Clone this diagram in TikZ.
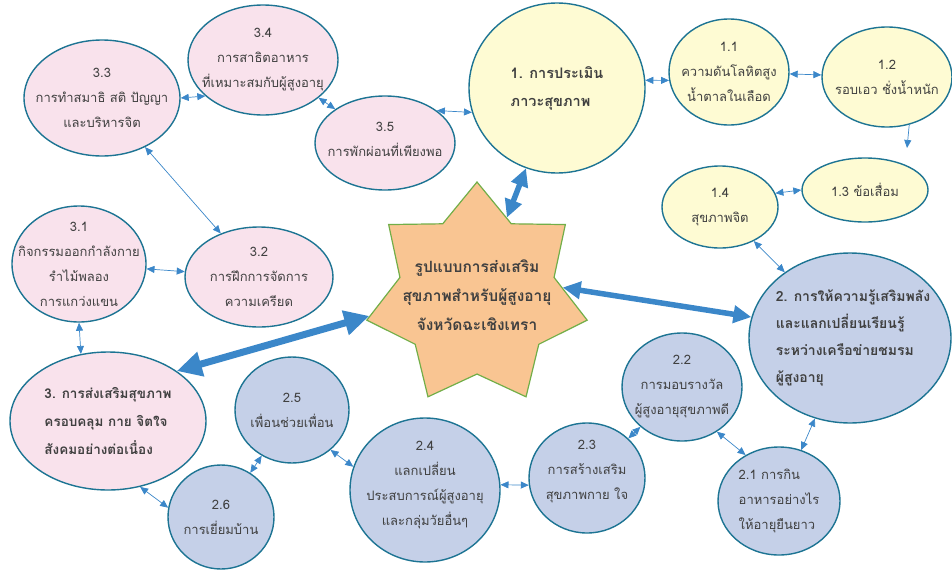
\documentclass[tikz,border=0pt]{standalone}
\usepackage{fontspec}
\setmainfont[Script=Thai]{Loma}
\usetikzlibrary{shapes.geometric,arrows.meta}

\definecolor{rimblue}{HTML}{1D7493}
\definecolor{pinkfill}{HTML}{F9E2EC}
\definecolor{yellowfill}{HTML}{FEFBD3}
\definecolor{bluefill}{HTML}{C5D0E8}
\definecolor{arrowblue}{HTML}{3B87C9}
\definecolor{starfill}{HTML}{F9C592}
\definecolor{stargreen}{HTML}{72AE48}
\definecolor{textgray}{HTML}{404040}

\tikzset{%
  % Specifications for style of nodes:
       bubble/.style = {ellipse, draw=rimblue, line width=1.4pt, inner sep=0pt},
   pinkbubble/.style = {bubble, fill=pinkfill},
 yellowbubble/.style = {bubble, fill=yellowfill},
   bluebubble/.style = {bubble, fill=bluefill},
    starshape/.style = {star, star points=7, star point ratio=1.43, minimum size=226pt, inner sep=0pt, draw=stargreen, fill=starfill, line width=1.2pt},
          txt/.style = {align=center, text=textgray, font=\fontsize{13}{25}\selectfont},
      boldtxt/.style = {align=left, text=textgray, font=\fontsize{14.5}{28}\selectfont\bfseries},
  % Specifications for style of arrows:
         link/.style = {<->, >={Triangle[length=8pt,width=7pt]}, draw=arrowblue, line width=0.7pt},
     bigarrow/.style = {<->, >={Triangle[length=18pt,width=17pt]}, draw=arrowblue, line width=5.5pt},
}

\begin{document}
\begin{tikzpicture}[x=1pt, y=-1pt]
    \useasboundingbox (0,0) rectangle (952,570);

    % Draw nodes
    \node (model) [starshape, label={[boldtxt, align=center, font=\fontsize{15.5}{29}\selectfont\bfseries]center:{รูปแบบการส่งเสริม\\สุขภาพสำหรับผู้สูงอายุ\\จังหวัดฉะเชิงเทรา}}] at (477,295) {};

    \node (n1)  [yellowbubble, minimum width=176pt, minimum height=170pt, label={[boldtxt]center:{1. การประเมิน\\ภาวะสุขภาพ}}] at (557,88) {};
    \node (n11) [yellowbubble, minimum width=120pt, minimum height=106pt, label={[txt]center:{1.1\\ความดันโลหิตสูง\\น้ำตาลในเลือด}}] at (729,72) {};
    \node (n12) [yellowbubble, minimum width=130pt, minimum height=100pt, label={[txt]center:{1.2\\รอบเอว ชั่งน้ำหนัก}}] at (887,77) {};
    \node (n13) [yellowbubble, minimum width=126pt, minimum height=64pt, label={[txt]center:{1.3 ข้อเสื่อม}}] at (865,190) {};
    \node (n14) [yellowbubble, minimum width=116pt, minimum height=82pt, label={[txt]center:{1.4\\สุขภาพจิต}}] at (720,207) {};

    \node (n2)  [bluebubble, minimum width=202pt, minimum height=170pt, label={[boldtxt, xshift=3pt, font=\fontsize{14}{27}\selectfont\bfseries]center:{2. การให้ความรู้เสริมพลัง\\และแลกเปลี่ยนเรียนรู้\\ระหว่างเครือข่ายชมรม\\ผู้สูงอายุ}}] at (850,338) {};
    \node (n21) [bluebubble, minimum width=122pt, minimum height=108pt, label={[txt, align=left]center:{2.1 การกิน\\อาหารอย่างไร\\ให้อายุยืนยาว}}] at (779,501) {};
    \node (n22) [bluebubble, minimum width=120pt, minimum height=108pt, label={[txt]center:{2.2\\การมอบรางวัล\\ผู้สูงอายุสุขภาพดี}}] at (682,387) {};
    \node (n23) [bluebubble, minimum width=116pt, minimum height=110pt, label={[txt, yshift=6pt]center:{2.3\\การสร้างเสริม\\สุขภาพกาย ใจ}}] at (587,478) {};
    \node (n24) [bluebubble, minimum width=150pt, minimum height=144pt, label={[txt, yshift=5pt]center:{2.4\\แลกเปลี่ยน\\ประสบการณ์ผู้สูงอายุ\\และกลุ่มวัยอื่นๆ}}] at (425,490) {};
    \node (n25) [bluebubble, minimum width=114pt, minimum height=106pt, label={[txt]center:{2.5\\เพื่อนช่วยเพื่อน}}] at (292,410) {};
    \node (n26) [bluebubble, minimum width=106pt, minimum height=104pt, label={[txt]center:{2.6\\การเยี่ยมบ้าน}}] at (221,517) {};

    \node (n3)  [pinkbubble, minimum width=196pt, minimum height=138pt, label={[boldtxt, font=\fontsize{13.5}{28}\selectfont\bfseries]center:{3. การส่งเสริมสุขภาพ\\ครอบคลุม กาย จิตใจ\\สังคมอย่างต่อเนื่อง}}] at (108,421) {};
    \node (n31) [pinkbubble, minimum width=134pt, minimum height=116pt, label={[txt]center:{3.1\\กิจกรรมออกกำลังกาย\\รำไม้พลอง\\การแกว่งแขน}}] at (79,264) {};
    \node (n32) [pinkbubble, minimum width=148pt, minimum height=100pt, label={[txt]center:{3.2\\การฝึกการจัดการ\\ความเครียด}}] at (259,277) {};
    \node (n33) [pinkbubble, minimum width=156pt, minimum height=116pt, label={[txt]center:{3.3\\การทำสมาธิ สติ ปัญญา\\และบริหารจิต}}] at (102,98) {};
    \node (n34) [pinkbubble, minimum width=150pt, minimum height=110pt, label={[txt]center:{3.4\\การสาธิตอาหาร\\ที่เหมาะสมกับผู้สูงอายุ}}] at (263,60) {};
    \node (n35) [pinkbubble, minimum width=140pt, minimum height=94pt, label={[txt, yshift=4pt]center:{3.5\\การพักผ่อนที่เพียงพอ}}] at (385,143) {};

    \coordinate (n12tip) at (907,148);

    % Draw arrows
    \draw[bigarrow] (n1) -- (model);
    \draw[bigarrow] (model.5) -- (n2.168);
    \draw[bigarrow, line width=7pt, >={Triangle[length=25pt,width=24pt]}] (model.191) -- (n3.36);

    \draw[link] (n1.5) -- (n11.188);
    \draw[link] (n11) -- (n12);
    \draw[link, ->] (n12.295) -- (n12tip);
    \draw[link] (n14.14) -- (n13.west);
    \draw[link] (n14) -- (n2);

    \draw[link] (n2) -- (n21);
    \draw[link] (n22.-52) -- (n21.126);
    \draw[link] (n23) -- (n22);
    \draw[link] (n24.4) -- (n23.187);
    \draw[link] (n25.-46) -- (n24.162);
    \draw[link] (n25) -- (n26);
    \draw[link] (n3.-64) -- (n26.170);

    \draw[link] (n31.south) -- (n3.112);
    \draw[link] (n31) -- (n32);
    \draw[link] (n33) -- (n32);
    \draw[link] (n33.east) -- (n34.212);
    \draw[link] (n34) -- (n35);
    \draw[link] (n35.32) -- (n1.196);

\end{tikzpicture}
\end{document}
